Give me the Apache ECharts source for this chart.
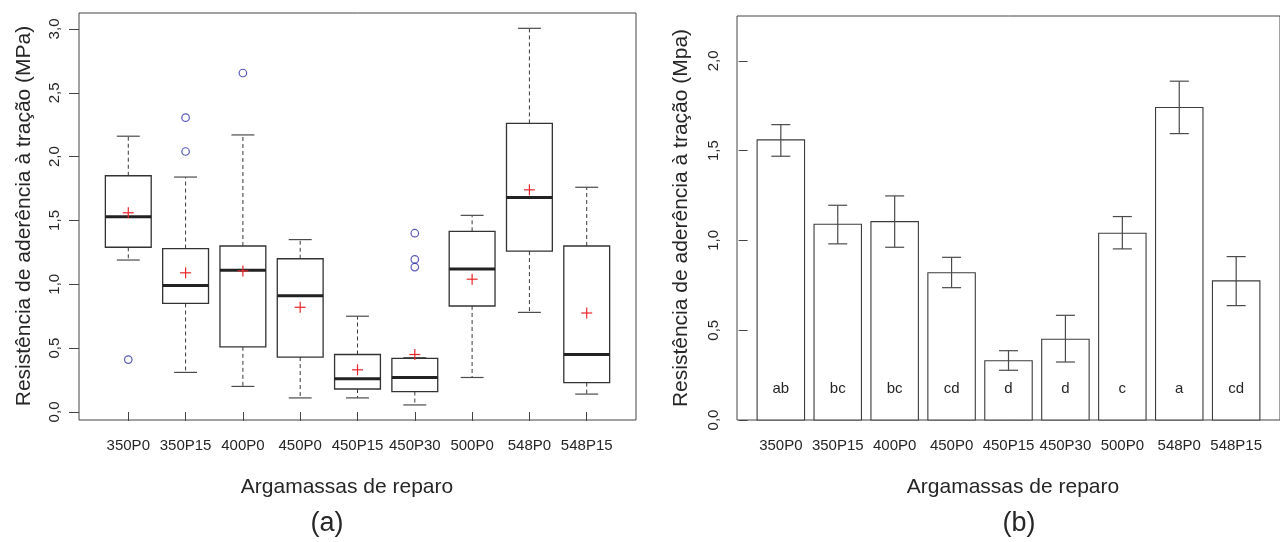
<!DOCTYPE html>
<html>
<head>
<meta charset="utf-8">
<title>Resistência de aderência à tração</title>
<script src="https://cdn.jsdelivr.net/npm/echarts@6/dist/echarts.min.js"></script>
<style>
  html, body { margin: 0; padding: 0; background: #ffffff; }
  #chart { width: 1280px; height: 542px; }
</style>
</head>
<body>
<div id="chart"></div>
<script>
// Repair mortars
const categories = ['350P0', '350P15', '400P0', '450P0', '450P15', '450P30', '500P0', '548P0', '548P15'];

// Box plot statistics (MPa)
const whiskerLow  = [1.19, 0.31, 0.20, 0.11, 0.11, 0.055, 0.27, 0.78, 0.14];
const quartile1   = [1.29, 0.85, 0.51, 0.43, 0.18, 0.16, 0.83, 1.26, 0.23];
const medians     = [1.53, 0.99, 1.11, 0.91, 0.26, 0.27, 1.12, 1.68, 0.45];
const quartile3   = [1.85, 1.28, 1.30, 1.20, 0.45, 0.42, 1.415, 2.26, 1.30];
const whiskerHigh = [2.16, 1.84, 2.17, 1.35, 0.75, 0.425, 1.54, 3.005, 1.76];
// [mortar index, value]
const outliers = [[0, 0.41], [1, 2.305], [1, 2.04], [2, 2.655], [5, 1.40], [5, 1.195], [5, 1.135]];

// Mean strength and its error interval (MPa)
const means   = [1.56, 1.09, 1.105, 0.82, 0.33, 0.45, 1.04, 1.74, 0.775];
const errLow  = [1.469, 0.981, 0.962, 0.737, 0.277, 0.323, 0.953, 1.595, 0.637];
const errHigh = [1.645, 1.196, 1.248, 0.906, 0.386, 0.583, 1.133, 1.887, 0.910];
// Tukey groups
const groups = ['ab', 'bc', 'bc', 'cd', 'd', 'd', 'c', 'a', 'cd'];

// Tick values
const yTicksBox = [0, 0.5, 1, 1.5, 2, 2.5, 3];
const yTicksBar = [0, 0.5, 1, 1.5, 2];

const FONT = 'Liberation Sans, Arial, Helvetica, sans-serif';
const INK = '#262626';
const FRAME = '#444444';

const fmt = v => v.toFixed(1).replace('.', ',');
const boxPos = i => i + 1;           // box plot x position
const barPos = i => 0.7 + 1.2 * i;   // barplot centre (width 1, space 0.2)
const boxTicks = categories.map((_, i) => boxPos(i));
const barTicks = categories.map((_, i) => barPos(i));

const chart = echarts.init(document.getElementById('chart'), null, { renderer: 'canvas' });

const axisLabelBase = { color: INK, fontFamily: FONT, fontSize: 15 };

const option = {
  backgroundColor: '#ffffff',
  animation: false,
  grid: [
    { left: 79, top: 13, width: 557, height: 407, show: true, borderColor: FRAME, borderWidth: 1, backgroundColor: 'transparent' },
    { left: 737, top: 16, width: 556, height: 404, show: true, borderColor: FRAME, borderWidth: 1, backgroundColor: 'transparent' }
  ],
  xAxis: [
    {
      gridIndex: 0, type: 'value', min: 0.14, max: 9.86,
      axisLine: { show: false },
      splitLine: { show: false },
      axisTick: { show: true, length: 9, customValues: boxTicks, lineStyle: { color: FRAME, width: 1 } },
      axisLabel: Object.assign({}, axisLabelBase, {
        margin: 18, customValues: boxTicks,
        formatter: v => categories[Math.round(v) - 1]
      })
    },
    {
      gridIndex: 1, type: 'value', min: -0.224, max: 11.224,
      axisLine: { show: false },
      splitLine: { show: false },
      axisTick: { show: false },
      axisLabel: Object.assign({}, axisLabelBase, {
        margin: 18, customValues: barTicks,
        formatter: v => categories[Math.round((v - 0.7) / 1.2)]
      })
    }
  ],
  yAxis: [
    {
      gridIndex: 0, type: 'value', min: -0.063, max: 3.125,
      axisLine: { show: false },
      splitLine: { show: false },
      axisTick: { show: true, length: 10, customValues: yTicksBox, lineStyle: { color: FRAME, width: 1 } },
      axisLabel: Object.assign({}, axisLabelBase, {
        rotate: 90, margin: 17, customValues: yTicksBox, formatter: fmt
      })
    },
    {
      gridIndex: 1, type: 'value', min: 0, max: 2.25,
      axisLine: { show: false },
      splitLine: { show: false },
      axisTick: { show: true, length: 9, customValues: yTicksBar, lineStyle: { color: FRAME, width: 1 } },
      axisLabel: Object.assign({}, axisLabelBase, {
        rotate: 90, margin: 16, customValues: yTicksBar, formatter: fmt
      })
    }
  ],
  graphic: [
    { type: 'text', x: 24, y: 216, rotation: Math.PI / 2,
      style: { text: 'Resistência de aderência à tração (MPa)', font: '21px ' + FONT, fill: INK, align: 'center', verticalAlign: 'middle' } },
    { type: 'text', x: 681, y: 218, rotation: Math.PI / 2,
      style: { text: 'Resistência de aderência à tração (Mpa)', font: '21px ' + FONT, fill: INK, align: 'center', verticalAlign: 'middle' } },
    { type: 'text', x: 347, y: 487,
      style: { text: 'Argamassas de reparo', font: '21px ' + FONT, fill: INK, align: 'center', verticalAlign: 'middle' } },
    { type: 'text', x: 1013, y: 487,
      style: { text: 'Argamassas de reparo', font: '21px ' + FONT, fill: INK, align: 'center', verticalAlign: 'middle' } },
    { type: 'text', x: 327, y: 524,
      style: { text: '(a)', font: '27px ' + FONT, fill: INK, align: 'center', verticalAlign: 'middle' } },
    { type: 'text', x: 1019, y: 524,
      style: { text: '(b)', font: '27px ' + FONT, fill: INK, align: 'center', verticalAlign: 'middle' } }
  ],
  series: [
    // Box plots
    {
      type: 'custom', xAxisIndex: 0, yAxisIndex: 0, clip: false,
      data: categories.map((_, i) => [boxPos(i), whiskerLow[i], quartile1[i], medians[i], quartile3[i], whiskerHigh[i]]),
      renderItem: (params, api) => {
        const x = api.value(0);
        const lo = api.coord([x, api.value(1)]);
        const b1 = api.coord([x, api.value(2)]);
        const md = api.coord([x, api.value(3)]);
        const b3 = api.coord([x, api.value(4)]);
        const hi = api.coord([x, api.value(5)]);
        const halfBox = api.size([0.4, 0])[0];
        const halfCap = api.size([0.2, 0])[0];
        const cx = lo[0];
        const dash = { stroke: '#3a3a3a', lineWidth: 1, lineDash: [4, 3] };
        const solid = { stroke: '#4a4a4a', lineWidth: 1.2 };
        return {
          type: 'group',
          children: [
            { type: 'line', shape: { x1: cx, y1: b3[1], x2: cx, y2: hi[1] }, style: dash },
            { type: 'line', shape: { x1: cx, y1: b1[1], x2: cx, y2: lo[1] }, style: dash },
            { type: 'line', shape: { x1: cx - halfCap, y1: hi[1], x2: cx + halfCap, y2: hi[1] }, style: solid },
            { type: 'line', shape: { x1: cx - halfCap, y1: lo[1], x2: cx + halfCap, y2: lo[1] }, style: solid },
            { type: 'rect', shape: { x: cx - halfBox, y: b3[1], width: 2 * halfBox, height: b1[1] - b3[1] },
              style: { fill: '#ffffff', stroke: '#333333', lineWidth: 1.3 } },
            { type: 'line', shape: { x1: cx - halfBox, y1: md[1], x2: cx + halfBox, y2: md[1] },
              style: { stroke: '#222222', lineWidth: 3 } }
          ]
        };
      }
    },
    // Outliers
    {
      type: 'scatter', xAxisIndex: 0, yAxisIndex: 0,
      data: outliers.map(o => [boxPos(o[0]), o[1]]),
      symbol: 'circle', symbolSize: 7.5,
      itemStyle: { color: 'rgba(0,0,0,0)', borderColor: '#3030a8', borderWidth: 1.2 }
    },
    // Means (red crosses)
    {
      type: 'custom', xAxisIndex: 0, yAxisIndex: 0,
      data: means.map((m, i) => [boxPos(i), m]),
      renderItem: (params, api) => {
        const p = api.coord([api.value(0), api.value(1)]);
        const r = 5.5;
        const st = { stroke: '#e8262a', lineWidth: 1.2 };
        return {
          type: 'group',
          children: [
            { type: 'line', shape: { x1: p[0] - r, y1: p[1], x2: p[0] + r, y2: p[1] }, style: st },
            { type: 'line', shape: { x1: p[0], y1: p[1] - r, x2: p[0], y2: p[1] + r }, style: st }
          ]
        };
      }
    },
    // Bars of the mean
    {
      type: 'custom', xAxisIndex: 1, yAxisIndex: 1, clip: false,
      data: means.map((m, i) => [barPos(i), m]),
      renderItem: (params, api) => {
        const x = api.value(0);
        const tl = api.coord([x - 0.5, api.value(1)]);
        const br = api.coord([x + 0.5, 0]);
        return {
          type: 'rect',
          shape: { x: tl[0], y: tl[1], width: br[0] - tl[0], height: br[1] - tl[1] },
          style: { fill: '#ffffff', stroke: '#3c3c3c', lineWidth: 1.1 }
        };
      }
    },
    // Error bars
    {
      type: 'custom', xAxisIndex: 1, yAxisIndex: 1, clip: false,
      data: means.map((m, i) => [barPos(i), errLow[i], errHigh[i]]),
      renderItem: (params, api) => {
        const x = api.value(0);
        const lo = api.coord([x, api.value(1)]);
        const hi = api.coord([x, api.value(2)]);
        const hw = 9.5;
        const st = { stroke: '#4a4a4a', lineWidth: 1.2 };
        return {
          type: 'group',
          children: [
            { type: 'line', shape: { x1: lo[0], y1: lo[1], x2: hi[0], y2: hi[1] }, style: st },
            { type: 'line', shape: { x1: hi[0] - hw, y1: hi[1], x2: hi[0] + hw, y2: hi[1] }, style: st },
            { type: 'line', shape: { x1: lo[0] - hw, y1: lo[1], x2: lo[0] + hw, y2: lo[1] }, style: st }
          ]
        };
      }
    },
    // Group letters
    {
      type: 'custom', xAxisIndex: 1, yAxisIndex: 1, clip: false,
      data: groups.map((g, i) => [barPos(i), 0.173, g]),
      renderItem: (params, api) => {
        const p = api.coord([api.value(0), api.value(1)]);
        return {
          type: 'text',
          x: p[0], y: p[1],
          style: { text: groups[params.dataIndex], font: '15px ' + FONT, fill: INK, align: 'center', verticalAlign: 'middle' }
        };
      }
    }
  ]
};

chart.setOption(option);
</script>
</body>
</html>
